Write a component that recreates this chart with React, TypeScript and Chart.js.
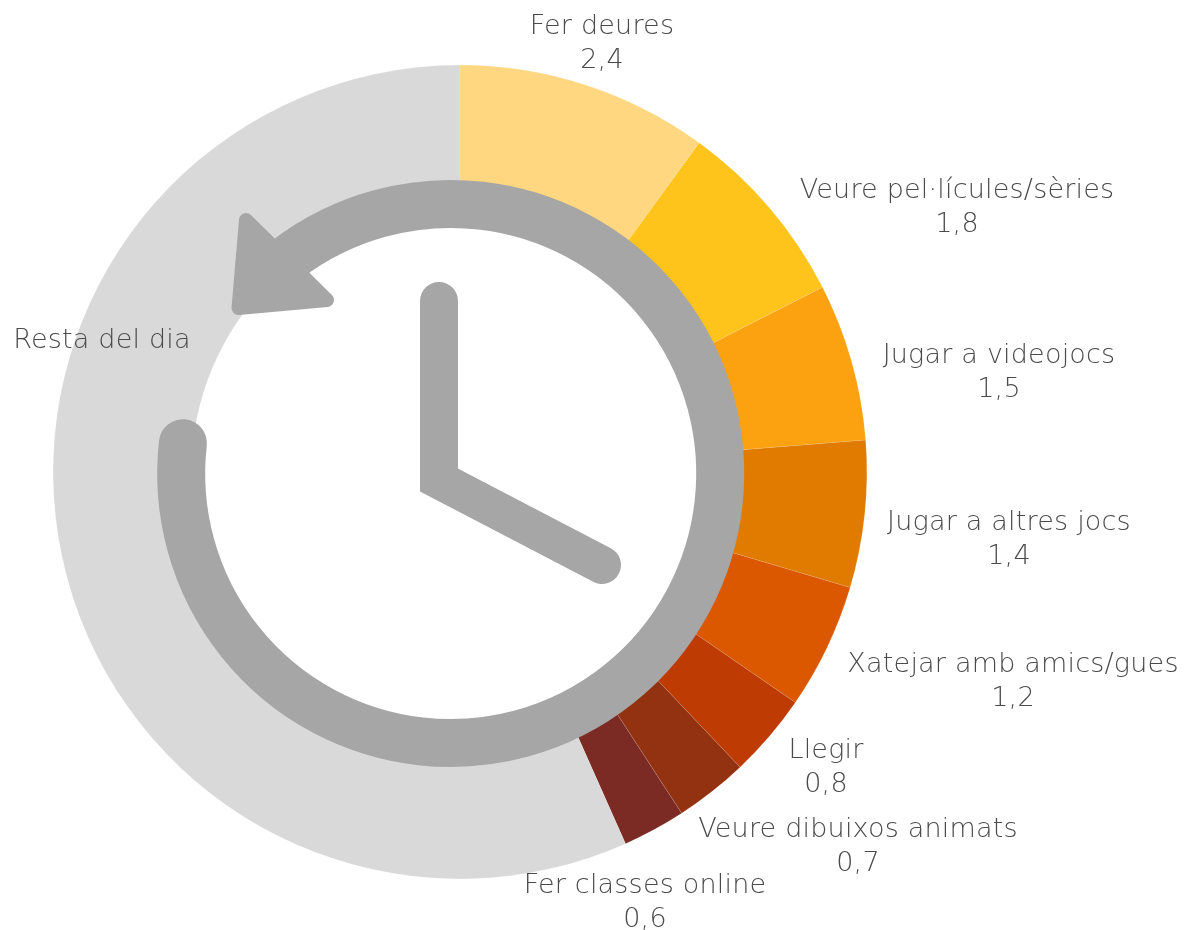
import React, { useEffect, useRef } from "react";
import { Chart, registerables } from "chart.js";

Chart.register(...registerables);

const categories = [
  "Fer deures",
  "Veure pel·lícules/sèries",
  "Jugar a videojocs",
  "Jugar a altres jocs",
  "Xatejar amb amics/gues",
  "Llegir",
  "Veure dibuixos animats",
  "Fer classes online",
  "Resta del dia",
];
const hours = [2.4, 1.8, 1.5, 1.4, 1.2, 0.8, 0.7, 0.6, 13.6];
const sliceColors = ["#FFD780", "#FFC41C", "#FCA110", "#E07B00", "#DC5800", "#BF3B04", "#933211", "#7B2B24", "#D9D9D9"];
const showValue = [true, true, true, true, true, true, true, true, false];
// label centre relative to the doughnut centre
const labelOffsets = [
  [142, -445], [497, -281], [539, -116], [549, 51], [553, 193], [366, 279], [398, 358], [185, 414], [-358, -131],
];

const FONT = "200 27px 'DejaVu Sans', sans-serif";
const ICON = "#A6A6A6";

const clockPlugin = {
  id: "clockIcon",
  afterDatasetsDraw(chart: any) {
    const { ctx } = chart;
    ctx.save();
    ctx.strokeStyle = ICON;
    ctx.fillStyle = ICON;
    // circular arrow
    ctx.lineWidth = 48;
    ctx.lineCap = "round";
    ctx.beginPath();
    const cx = 450.7, cy = 473.5, r = 269.5;
    ctx.arc(cx, cy, r, Math.atan2(443 - cy, 181 - cx), Math.atan2(262 - cy, 290 - cx), true);
    ctx.stroke();
    // arrow head
    const pts = [[246, 220], [238.5, 308], [327, 300]];
    ctx.lineJoin = "round";
    ctx.lineWidth = 14;
    ctx.beginPath();
    ctx.moveTo(pts[0][0], pts[0][1]);
    ctx.lineTo(pts[1][0], pts[1][1]);
    ctx.lineTo(pts[2][0], pts[2][1]);
    ctx.closePath();
    ctx.stroke();
    ctx.fill();
    // hands
    ctx.lineWidth = 38;
    ctx.lineCap = "round";
    ctx.lineJoin = "miter";
    ctx.beginPath();
    ctx.moveTo(439, 301);
    ctx.lineTo(439, 480);
    ctx.lineTo(602, 565);
    ctx.stroke();
    ctx.restore();
  },
  afterDraw(chart: any) {
    const { ctx } = chart;
    const arcs = chart.getDatasetMeta(0).data;
    const cx = arcs[0].x, cy = arcs[0].y;
    ctx.save();
    ctx.font = FONT;
    (ctx as any).letterSpacing = "0.2px";
    ctx.fillStyle = "#4A4A4A";
    ctx.textAlign = "center";
    ctx.textBaseline = "middle";
    categories.forEach((name, i) => {
      const x = cx + labelOffsets[i][0];
      const y = cy + labelOffsets[i][1];
      ctx.fillText(name, x, y);
      if (showValue[i]) ctx.fillText(hours[i].toFixed(1).replace(".", ","), x, y + 34);
    });
    ctx.restore();
  },
};

export default function App() {
  const ref = useRef<HTMLCanvasElement>(null);
  useEffect(() => {
    const chart = new Chart(ref.current!, {
      type: "doughnut",
      data: {
        labels: categories,
        datasets: [{ data: hours, backgroundColor: sliceColors, borderColor: "rgba(255,255,255,0.6)", borderWidth: 0.2 }],
      },
      options: {
        responsive: false,
        animation: false,
        cutout: "66%",
        layout: { padding: { left: 53, right: 318, top: 65, bottom: 51 } },
        plugins: { legend: { display: false }, tooltip: { enabled: false } },
      },
      plugins: [clockPlugin],
    } as any);
    return () => chart.destroy();
  }, []);
  return (
    <div style={{ position: "fixed", left: 0, top: 0, width: 1185, height: 930, background: "#fff" }}>
      <canvas ref={ref} width={1185} height={930} style={{ display: "block" }} />
    </div>
  );
}
